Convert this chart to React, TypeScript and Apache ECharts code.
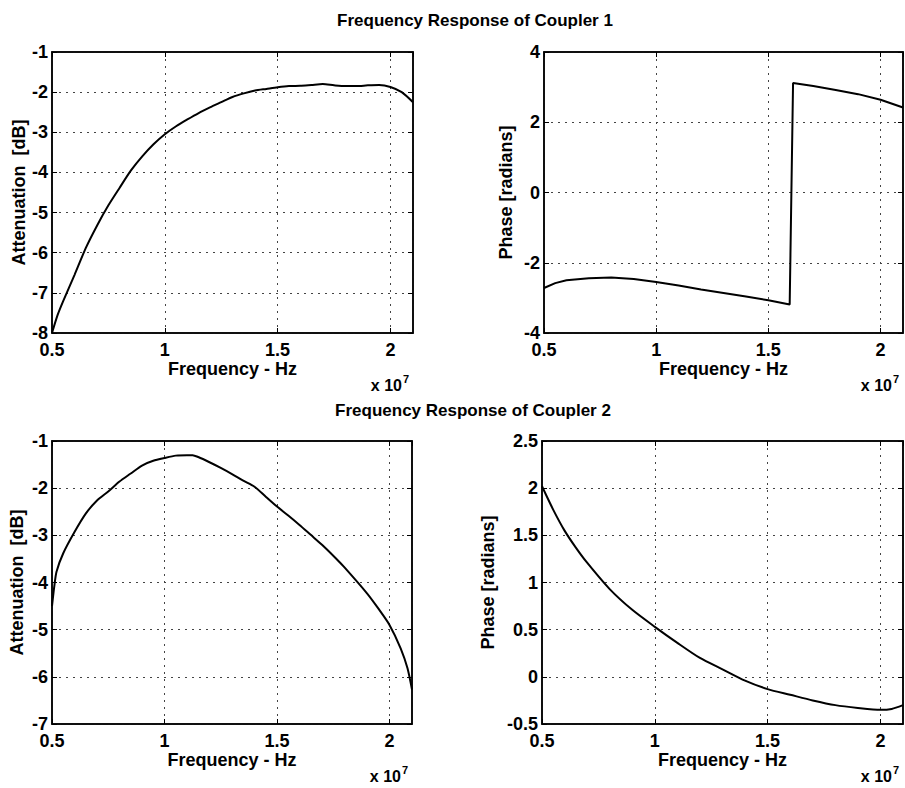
import React, { useEffect, useRef } from "react";
import * as echarts from "echarts";

// Frequency in units of 10^7 Hz
const freqAtt1 = [0.5, 0.525, 0.55, 0.6, 0.65, 0.7, 0.75, 0.8, 0.85, 0.9, 0.95, 1.0, 1.05, 1.1, 1.15, 1.2, 1.25, 1.3, 1.35, 1.4, 1.45, 1.5, 1.55, 1.6, 1.65, 1.7, 1.75, 1.8, 1.85, 1.9, 1.95, 2.0, 2.05, 2.1];
const att1 = [-8.0, -7.55, -7.2, -6.55, -5.88, -5.32, -4.82, -4.38, -3.95, -3.6, -3.3, -3.05, -2.85, -2.68, -2.52, -2.38, -2.25, -2.12, -2.03, -1.96, -1.92, -1.88, -1.85, -1.84, -1.82, -1.8, -1.83, -1.85, -1.85, -1.83, -1.82, -1.87, -2.0, -2.25];

const freqPh1 = [0.5, 0.55, 0.6, 0.7, 0.8, 0.9, 1.0, 1.1, 1.2, 1.3, 1.4, 1.5, 1.595, 1.61, 1.7, 1.8, 1.9, 2.0, 2.1];
const phase1 = [-2.72, -2.58, -2.5, -2.44, -2.42, -2.46, -2.55, -2.65, -2.76, -2.86, -2.96, -3.07, -3.19, 3.12, 3.03, 2.92, 2.8, 2.64, 2.42];

const freqAtt2 = [0.5, 0.51, 0.52, 0.55, 0.6, 0.65, 0.7, 0.75, 0.8, 0.85, 0.9, 0.95, 1.0, 1.05, 1.1, 1.125, 1.15, 1.2, 1.25, 1.3, 1.35, 1.4, 1.45, 1.5, 1.55, 1.6, 1.65, 1.7, 1.76, 1.8, 1.9, 1.95, 2.0, 2.05, 2.08, 2.1];
const att2 = [-4.5, -4.09, -3.77, -3.38, -2.93, -2.54, -2.26, -2.07, -1.86, -1.69, -1.52, -1.42, -1.36, -1.31, -1.3, -1.3, -1.34, -1.45, -1.57, -1.7, -1.84, -1.97, -2.18, -2.39, -2.58, -2.78, -2.99, -3.2, -3.48, -3.68, -4.23, -4.55, -4.9, -5.4, -5.82, -6.27];

const freqPh2 = [0.5, 0.55, 0.6, 0.65, 0.7, 0.8, 0.9, 1.0, 1.1, 1.2, 1.3, 1.4, 1.5, 1.6, 1.7, 1.8, 1.9, 2.0, 2.05, 2.1];
const phase2 = [2.02, 1.77, 1.55, 1.37, 1.21, 0.93, 0.71, 0.53, 0.36, 0.2, 0.08, -0.04, -0.13, -0.19, -0.25, -0.3, -0.33, -0.35, -0.34, -0.3];

const titles = ["Frequency Response of Coupler 1", "Frequency Response of Coupler 2"];
const xName = "Frequency - Hz";
const yNames = ["Attenuation  [dB]", "Phase [radians]", "Attenuation  [dB]", "Phase [radians]"];
const xRange = { min: 0.5, max: 2.1, interval: 0.5 };
const yRanges = [
  { min: -8, max: -1, interval: 1 },
  { min: -4, max: 4, interval: 2 },
  { min: -7, max: -1, interval: 1 },
  { min: -0.5, max: 2.5, interval: 0.5 },
];

const FONT = "'Liberation Sans', Arial, sans-serif";

const panels = [
  { grid: { left: 52, top: 52, width: 361, height: 281 }, yGap: 24, x: freqAtt1, y: att1, smooth: true },
  { grid: { left: 544, top: 52, width: 359, height: 281 }, yGap: 29, x: freqPh1, y: phase1, smooth: false },
  { grid: { left: 52, top: 441, width: 360, height: 283 }, yGap: 26, x: freqAtt2, y: att2, smooth: true },
  { grid: { left: 542, top: 441, width: 361, height: 283 }, yGap: 45, x: freqPh2, y: phase2, smooth: true },
];

export default function App() {
  const ref = useRef<HTMLDivElement>(null);
  useEffect(() => {
    if (!ref.current) return;
    const chart = echarts.init(ref.current, null, { renderer: "svg" });
    const grids: any[] = [];
    const xAxes: any[] = [];
    const yAxes: any[] = [];
    const series: any[] = [];
    const graphics: any[] = [];
    const labelStyle = { color: "#000", fontSize: 18, fontFamily: FONT, fontWeight: "bold" };
    const gridLine = { show: true, lineStyle: { color: "#444", width: 1, type: [2, 5] } };
    const line = { show: true, onZero: false, lineStyle: { color: "#000", width: 1.5 } };
    const tick = { show: true, inside: true, length: 5, lineStyle: { color: "#000" } };
    panels.forEach((p, i) => {
      grids.push({ ...p.grid, show: true, borderColor: "#000", borderWidth: 1.5, backgroundColor: "transparent" });
      xAxes.push({
        type: "value",
        gridIndex: i,
        position: "bottom",
        ...xRange,
        name: xName,
        nameLocation: "middle",
        nameGap: 20,
        nameTextStyle: { color: "#000", fontSize: 18, fontFamily: FONT, fontWeight: "bold" },
        axisLine: line,
        axisTick: tick,
        axisLabel: { ...labelStyle, margin: 8, showMaxLabel: false, formatter: (v: number) => (v > 2.05 ? "" : String(v)) },
        splitLine: gridLine,
      });
      xAxes.push({
        type: "value",
        gridIndex: i,
        position: "top",
        ...xRange,
        axisLine: line,
        axisTick: tick,
        axisLabel: { show: false },
        splitLine: { show: false },
      });
      yAxes.push({
        type: "value",
        gridIndex: i,
        position: "left",
        ...yRanges[i],
        name: yNames[i],
        nameLocation: "middle",
        nameGap: p.yGap,
        nameTextStyle: { color: "#000", fontSize: 18, fontFamily: FONT, fontWeight: "bold" },
        axisLine: line,
        axisTick: tick,
        axisLabel: { ...labelStyle, margin: 4 },
        splitLine: gridLine,
      });
      yAxes.push({
        type: "value",
        gridIndex: i,
        position: "right",
        ...yRanges[i],
        axisLine: line,
        axisTick: tick,
        axisLabel: { show: false },
        splitLine: { show: false },
      });
      series.push({
        type: "line",
        xAxisIndex: 2 * i,
        yAxisIndex: 2 * i,
        data: p.x.map((xv, k) => [xv, p.y[k]]),
        showSymbol: false,
        symbol: "none",
        smooth: p.smooth ? 0.25 : false,
        lineStyle: { color: "#000", width: 2 },
        clip: true,
      });
      const right = p.grid.left + p.grid.width;
      const bottom = p.grid.top + p.grid.height;
      graphics.push({
        type: "text",
        x: right - 11,
        y: bottom + 60,
        style: { text: "x 10", fill: "#000", font: `bold 16px ${FONT}`, textAlign: "right", textVerticalAlign: "bottom" },
      });
      graphics.push({
        type: "text",
        x: right - 10,
        y: bottom + 40,
        style: { text: "7", fill: "#000", font: `bold 11px ${FONT}`, textAlign: "left", textVerticalAlign: "top" },
      });
    });
    graphics.push({
      type: "text",
      x: 475,
      y: 20,
      style: { text: titles[0], fill: "#000", font: `bold 17px ${FONT}`, textAlign: "center", textVerticalAlign: "middle" },
    });
    graphics.push({
      type: "text",
      x: 473,
      y: 410,
      style: { text: titles[1], fill: "#000", font: `bold 17px ${FONT}`, textAlign: "center", textVerticalAlign: "middle" },
    });
    chart.setOption({
      animation: false,
      backgroundColor: "#fff",
      grid: grids,
      xAxis: xAxes,
      yAxis: yAxes,
      series,
      graphic: graphics,
    });
    return () => chart.dispose();
  }, []);
  return <div ref={ref} style={{ position: "absolute", left: 0, top: 0, width: 905, height: 788 }} />;
}
